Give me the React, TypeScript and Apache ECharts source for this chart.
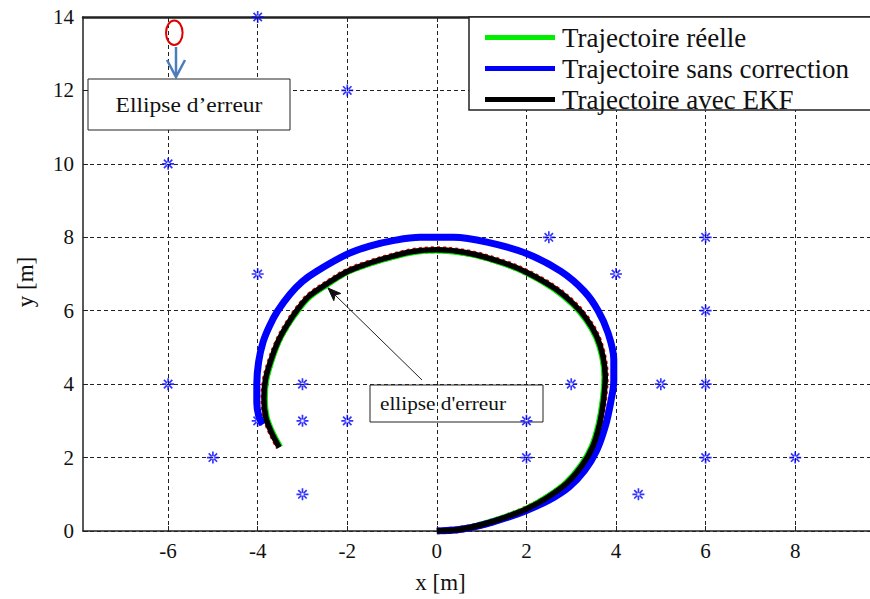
import React, { useEffect, useRef } from "react";
import * as echarts from "echarts";

const FONT = "Liberation Serif";

// Trajectoire réelle (m)
const trajReelle: number[][] = [
  [0, 0], [0.5, 0.04], [1.0, 0.18], [1.5, 0.37], [2.0, 0.61], [2.44, 0.91], [2.88, 1.31],
  [3.23, 1.81], [3.46, 2.31], [3.61, 2.91], [3.7, 3.55], [3.74, 4.2], [3.69, 4.75],
  [3.55, 5.29], [3.32, 5.77], [3.03, 6.18], [2.61, 6.6], [2.0, 7.03], [1.5, 7.28],
  [0.75, 7.54], [0, 7.64], [-0.5, 7.6], [-1.0, 7.46], [-1.5, 7.28], [-2.0, 7.05],
  [-2.45, 6.71], [-2.84, 6.38], [-3.09, 6.03], [-3.34, 5.59], [-3.54, 5.14], [-3.7, 4.6],
  [-3.81, 4.1], [-3.84, 3.6], [-3.8, 3.11], [-3.68, 2.71], [-3.5, 2.29],
];

// Trajectoire sans correction (odométrie seule)
const trajSansCorrection: number[][] = [
  [0, 0], [0.5, 0.04], [1.0, 0.16], [1.5, 0.34], [2.0, 0.56], [2.5, 0.84], [2.95, 1.2],
  [3.3, 1.65], [3.57, 2.2], [3.76, 2.85], [3.88, 3.5], [3.95, 4.1], [3.95, 4.67],
  [3.82, 5.4], [3.6, 6.0], [3.29, 6.53], [2.77, 7.07], [2.0, 7.56], [1.12, 7.87],
  [0.37, 8.0], [-0.37, 8.0], [-0.98, 7.91], [-1.5, 7.76], [-2.0, 7.54], [-2.69, 7.07],
  [-3.0, 6.8], [-3.28, 6.45], [-3.55, 6.0], [-3.73, 5.6], [-3.88, 5.15], [-3.98, 4.6],
  [-4.02, 4.0], [-4.02, 3.5], [-3.98, 3.15], [-3.89, 2.9],
];

// Trajectoire estimée par le filtre de Kalman étendu
const trajEKF: number[][] = [
  [0, 0], [0.5, 0.04], [1.0, 0.17], [1.5, 0.36], [2.0, 0.6], [2.45, 0.9], [2.9, 1.3],
  [3.25, 1.8], [3.48, 2.3], [3.63, 2.9], [3.72, 3.55], [3.76, 4.2], [3.71, 4.75],
  [3.57, 5.3], [3.34, 5.78], [3.04, 6.2], [2.62, 6.62], [2.0, 7.05], [1.5, 7.3],
  [0.75, 7.56], [0, 7.66], [-0.5, 7.62], [-1.0, 7.48], [-1.5, 7.3], [-2.0, 7.07],
  [-2.46, 6.73], [-2.85, 6.4], [-3.1, 6.05], [-3.35, 5.6], [-3.55, 5.15], [-3.72, 4.6],
  [-3.83, 4.1], [-3.86, 3.6], [-3.82, 3.1], [-3.7, 2.7], [-3.52, 2.28],
];

// Amers (landmarks)
const amers: number[][] = [
  [-4, 14], [-2, 12], [-6, 10], [-4, 7], [2.5, 8], [6, 8], [4, 7], [6, 6],
  [-6, 4], [-3, 4], [3, 4], [5, 4], [6, 4], [-4, 3], [-3, 3], [-2, 3], [2, 3],
  [-5, 2], [2, 2], [6, 2], [8, 2], [-3, 1], [4.5, 1],
];

const xTicks = [-6, -4, -2, 0, 2, 4, 6, 8];

const legendNames = [
  "Trajectoire réelle",
  "Trajectoire sans correction",
  "Trajectoire avec EKF",
];

// eight-armed asterisk marker
const STAR =
  "path://M-0.14,-1 L0.14,-1 L0.14,1 L-0.14,1 Z " +
  "M-1,-0.14 L1,-0.14 L1,0.14 L-1,0.14 Z " +
  "M-0.8,-0.6 L0.6,0.8 L0.8,0.6 L-0.6,-0.8 Z " +
  "M-0.6,0.8 L0.8,-0.6 L0.6,-0.8 L-0.8,0.6 Z";

export default function App() {
  const ref = useRef<HTMLDivElement>(null);

  useEffect(() => {
    if (!ref.current) return;
    const chart = echarts.init(ref.current, null, { renderer: "svg" });

    const axisColor = "#222";
    const option: any = {
      animation: false,
      backgroundColor: "#fff",
      textStyle: { fontFamily: FONT },
      grid: { left: 83, right: 0, top: 17, bottom: 60, containLabel: false },
      xAxis: [
        {
          type: "value",
          min: -7.9,
          max: 9.67,
          position: "bottom",
          name: "x [m]",
          nameLocation: "middle",
          nameGap: 40,
          nameTextStyle: {
            fontFamily: FONT,
            fontSize: 23,
            color: "#111",
            padding: [0, 72, 0, 0],
          },
          axisLine: { show: true, onZero: false, lineStyle: { color: axisColor, width: 1.5 } },
          axisTick: {
            show: true,
            inside: true,
            length: 5,
            customValues: xTicks,
            lineStyle: { color: axisColor },
          },
          axisLabel: {
            customValues: xTicks,
            fontFamily: FONT,
            fontSize: 21,
            color: "#111",
            margin: 9,
          },
          splitLine: { show: true, lineStyle: { color: "#222", width: 1, type: [4, 3] } },
        },
        {
          type: "value",
          min: -7.9,
          max: 9.67,
          position: "top",
          axisLine: { show: true, onZero: false, lineStyle: { color: axisColor, width: 2.5 } },
          axisTick: {
            show: true,
            inside: true,
            length: 5,
            customValues: xTicks,
            lineStyle: { color: axisColor },
          },
          axisLabel: { show: false },
          splitLine: { show: false },
        },
      ],
      yAxis: {
        type: "value",
        min: 0,
        max: 14,
        interval: 2,
        name: "y [m]",
        nameLocation: "middle",
        nameGap: 46,
        nameRotate: 90,
        nameTextStyle: {
          fontFamily: FONT,
          fontSize: 23,
          color: "#111",
          padding: [0, 16, 0, 0],
        },
        axisLine: { show: true, onZero: false, lineStyle: { color: axisColor, width: 1.5 } },
        axisTick: { show: true, inside: true, length: 5, lineStyle: { color: axisColor } },
        axisLabel: { fontFamily: FONT, fontSize: 21, color: "#111", margin: 9 },
        splitLine: { show: true, lineStyle: { color: "#222", width: 1, type: [4, 3] } },
      },
      legend: {
        data: legendNames,
        orient: "vertical",
        left: 480,
        top: 19,
        itemWidth: 70,
        itemHeight: 5,
        itemGap: 4,
        icon: "rect",
        z: 10,
        textStyle: {
          fontFamily: FONT,
          fontSize: 27,
          color: "#111",
          lineHeight: 26.5,
          padding: [0, 0, 0, 2],
        },
      },
      graphic: [
        // legend frame
        {
          type: "rect",
          z: 5,
          shape: { x: 469, y: 17, width: 420, height: 93 },
          style: { fill: "#fff", stroke: "#222", lineWidth: 1.5 },
        },
        // error-ellipse callout at the top
        {
          type: "ellipse",
          z: 6,
          shape: { cx: 174.3, cy: 32.8, rx: 8.3, ry: 12.2 },
          style: { fill: "none", stroke: "#e00000", lineWidth: 2 },
        },
        {
          type: "line",
          z: 6,
          shape: { x1: 176, y1: 47, x2: 176, y2: 76 },
          style: { stroke: "#4a7ebb", lineWidth: 2.5 },
        },
        {
          type: "polyline",
          z: 6,
          shape: { points: [[167, 60], [176, 77], [185, 60]] },
          style: { fill: "none", stroke: "#4a7ebb", lineWidth: 2.5 },
        },
        {
          type: "rect",
          z: 5,
          shape: { x: 88, y: 79, width: 202, height: 51 },
          style: { fill: "#fff", stroke: "#222", lineWidth: 1 },
        },
        {
          type: "text",
          z: 6,
          x: 189,
          y: 105,
          scaleX: 1.12,
          style: {
            text: "Ellipse d’erreur",
            font: `21px ${FONT}`,
            fill: "#111",
            align: "center",
            verticalAlign: "middle",
          },
        },
        // callout pointing at the trajectory
        {
          type: "line",
          z: 6,
          shape: { x1: 422, y1: 380, x2: 334, y2: 294 },
          style: { stroke: "#222", lineWidth: 1 },
        },
        {
          type: "polygon",
          z: 6,
          shape: { points: [[328, 288], [340.8, 293.5], [335, 295], [333.8, 300.7]] },
          style: { fill: "#111", stroke: "#111", lineWidth: 1 },
        },
        {
          type: "rect",
          z: 6,
          shape: { x: 370, y: 385, width: 173, height: 37 },
          style: { fill: "none", stroke: "#222", lineWidth: 1 },
        },
        {
          type: "text",
          z: 6,
          x: 380,
          y: 404,
          scaleX: 1.15,
          style: {
            text: "ellipse d'erreur",
            font: `18.5px ${FONT}`,
            fill: "#111",
            align: "left",
            verticalAlign: "middle",
          },
        },
      ],
      series: [
        {
          name: "Ellipses d'erreur",
          type: "line",
          data: trajEKF,
          showSymbol: false,
          smooth: 0.35,
          z: 2,
          lineStyle: { color: "#ff0000", width: 7, type: [3, 3] },
        },
        {
          name: legendNames[0],
          type: "line",
          data: trajReelle,
          showSymbol: false,
          smooth: 0.35,
          z: 3,
          color: "#00ee00",
          lineStyle: { color: "#00ee00", width: 6 },
        },
        {
          name: legendNames[1],
          type: "line",
          data: trajSansCorrection,
          showSymbol: false,
          smooth: 0.35,
          z: 3,
          color: "#0000ff",
          lineStyle: { color: "#0000ff", width: 7 },
        },
        {
          name: legendNames[2],
          type: "line",
          data: trajEKF,
          showSymbol: false,
          smooth: 0.35,
          z: 4,
          color: "#000000",
          lineStyle: { color: "#000000", width: 5.5 },
        },
        {
          name: "Amers",
          type: "scatter",
          data: amers,
          symbol: STAR,
          symbolSize: 12,
          z: 7,
          itemStyle: { color: "#0000ff" },
        },
      ],
    };

    chart.setOption(option);
    return () => chart.dispose();
  }, []);

  return (
    <div
      ref={ref}
      style={{ position: "fixed", left: 0, top: 0, width: 870, height: 599 }}
    />
  );
}
